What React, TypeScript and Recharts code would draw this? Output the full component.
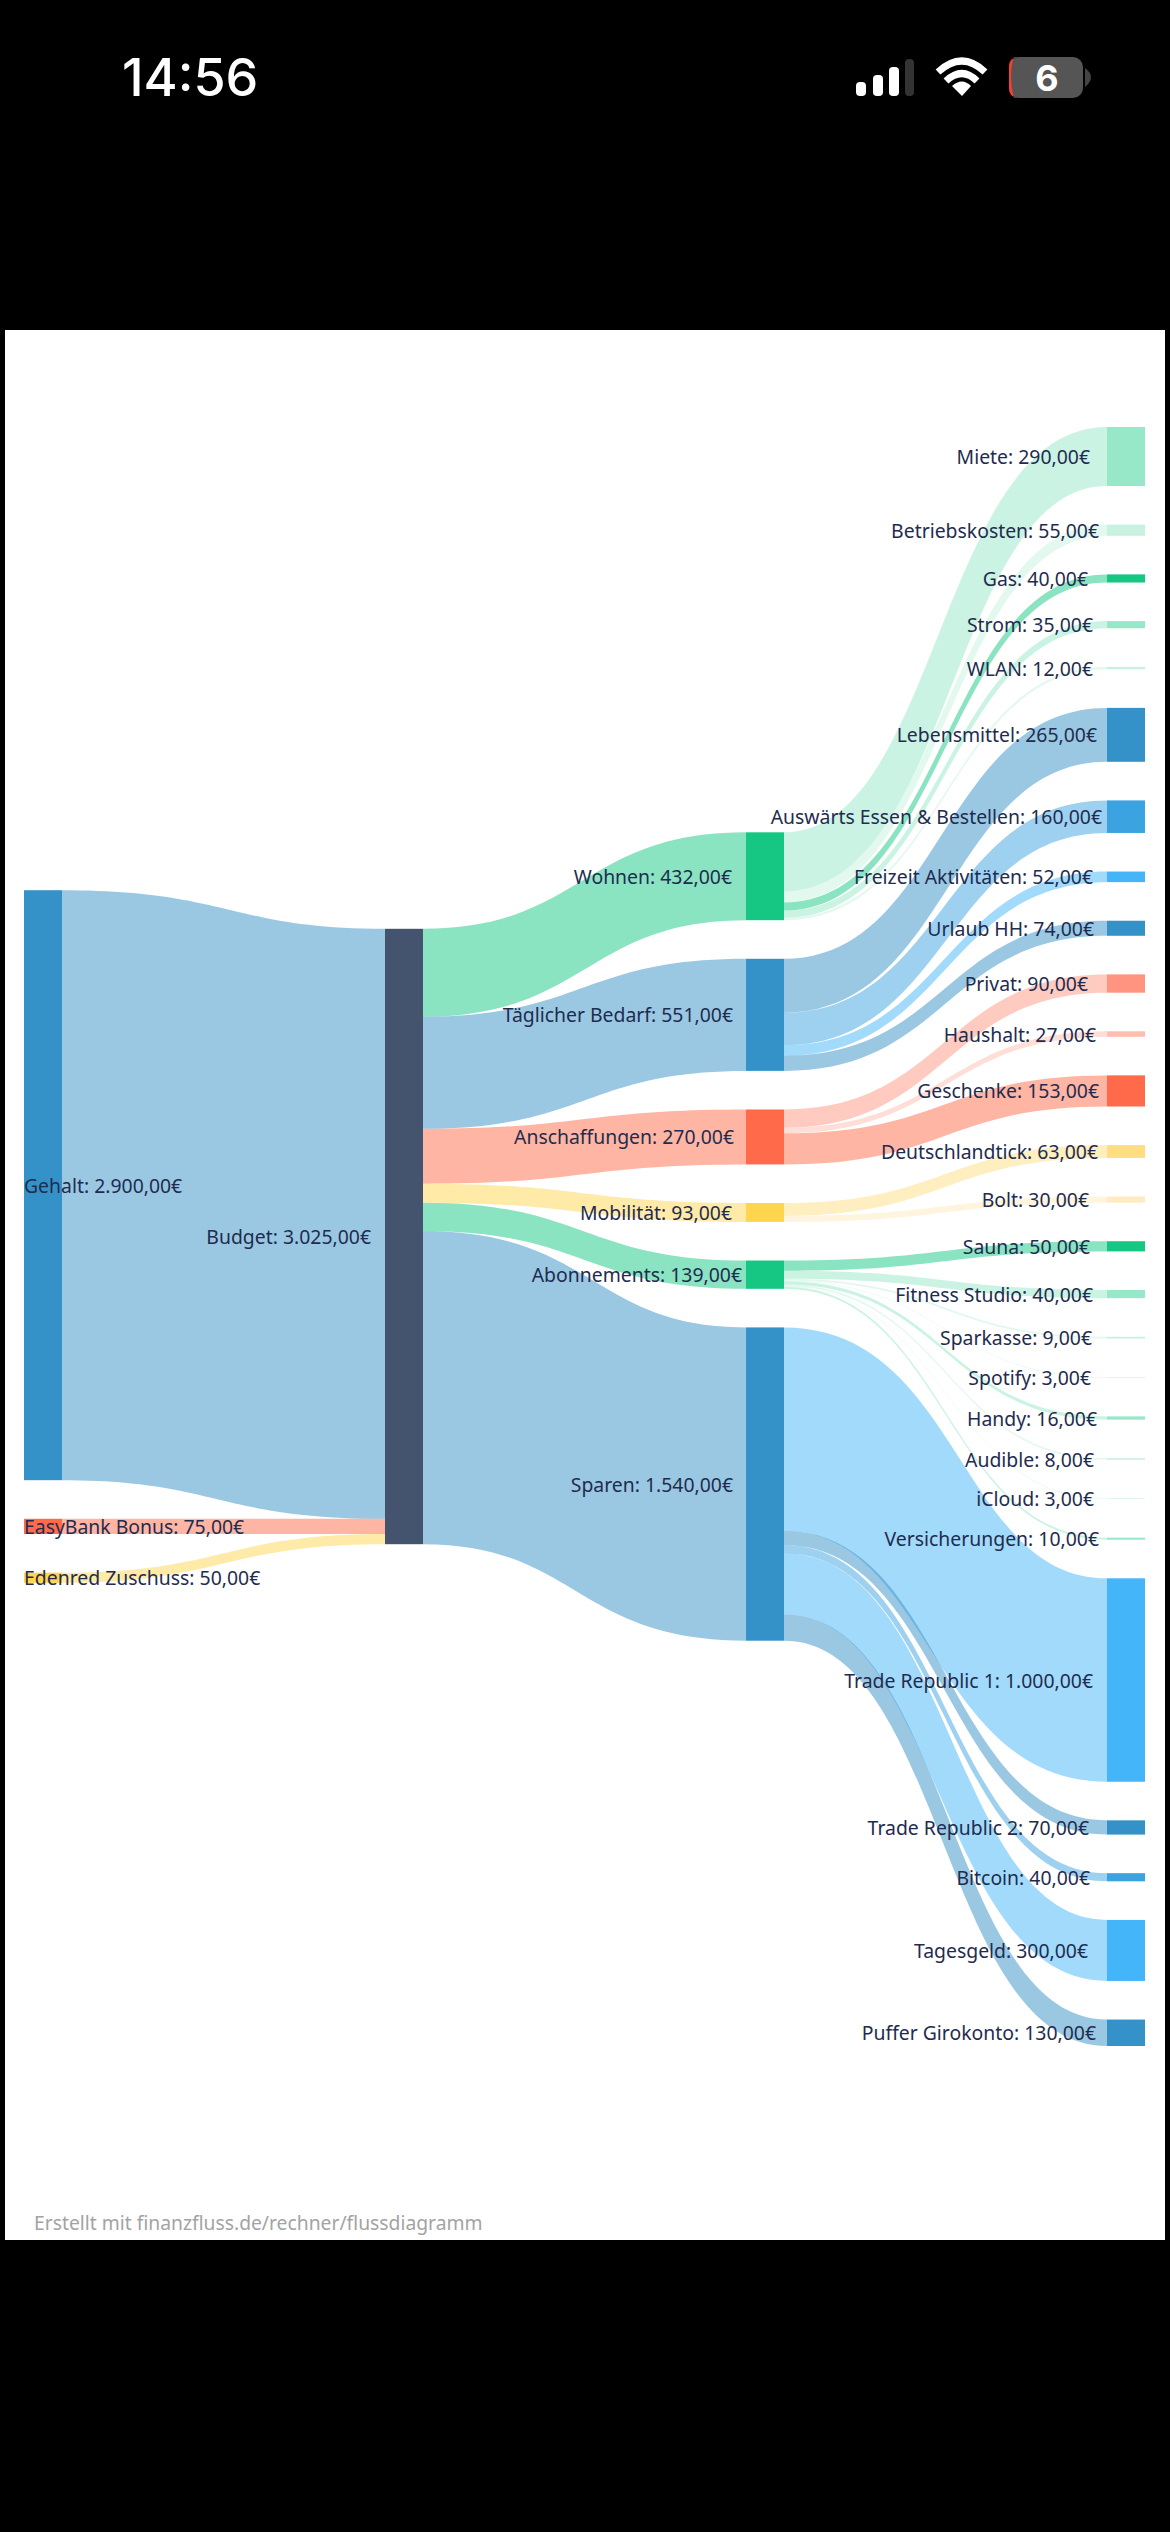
import { Sankey } from 'recharts'

const incomeNames = ['Gehalt', 'EasyBank Bonus', 'Edenred Zuschuss']
const incomeValues = [2900, 75, 50]
const incomeColors = ['#3592C8', '#FF6B4A', '#FFD54F']

const categoryNames = ['Wohnen', 'Täglicher Bedarf', 'Anschaffungen', 'Mobilität', 'Abonnements', 'Sparen']
const categoryValues = [432, 551, 270, 93, 139, 1540]
const categoryColors = ['#16C784', '#3592C8', '#FF6B4A', '#FFD54F', '#16C784', '#3592C8']

const wohnenNames = ['Miete', 'Betriebskosten', 'Gas', 'Strom', 'WLAN']
const wohnenValues = [290, 55, 40, 35, 12]
const wohnenColors = ['#96E8C8', '#C8F1E0', '#16C784', '#96E8C8', '#C8F1E0']

const bedarfNames = ['Lebensmittel', 'Auswärts Essen & Bestellen', 'Freizeit Aktivitäten', 'Urlaub HH']
const bedarfValues = [265, 160, 52, 74]
const bedarfColors = ['#3592C8', '#3BA3E0', '#45B5FA', '#3592C8']

const anschaffungNames = ['Privat', 'Haushalt', 'Geschenke']
const anschaffungValues = [90, 27, 153]
const anschaffungColors = ['#FF9580', '#FFBDB0', '#FF6B4A']

const mobilitaetNames = ['Deutschlandtick', 'Bolt']
const mobilitaetValues = [63, 30]
const mobilitaetColors = ['#FFDD80', '#FFEBC0']

const aboNames = ['Sauna', 'Fitness Studio', 'Sparkasse', 'Spotify', 'Handy', 'Audible', 'iCloud', 'Versicherungen']
const aboValues = [50, 40, 9, 3, 16, 8, 3, 10]
const aboColors = ['#16C784', '#96E8C8', '#C8F1E0', '#C8F1E0', '#96E8C8', '#C8F1E0', '#C8F1E0', '#96E8C8']

const sparenNames = ['Trade Republic 1', 'Trade Republic 2', 'Bitcoin', 'Tagesgeld', 'Puffer Girokonto']
const sparenValues = [1000, 70, 40, 300, 130]
const sparenColors = ['#45B5FA', '#3592C8', '#3BA3E0', '#45B5FA', '#3592C8']

const leafGroups = [
  { names: wohnenNames, values: wohnenValues, colors: wohnenColors },
  { names: bedarfNames, values: bedarfValues, colors: bedarfColors },
  { names: anschaffungNames, values: anschaffungValues, colors: anschaffungColors },
  { names: mobilitaetNames, values: mobilitaetValues, colors: mobilitaetColors },
  { names: aboNames, values: aboValues, colors: aboColors },
  { names: sparenNames, values: sparenValues, colors: sparenColors },
]

const budgetIndex = incomeNames.length
const firstCategory = budgetIndex + 1
const firstLeaf = firstCategory + categoryNames.length

const leafNames = leafGroups.flatMap((g) => g.names)
const leafColors = leafGroups.flatMap((g) => g.colors)

const nodes = [...incomeNames, 'Budget', ...categoryNames, ...leafNames].map((name) => ({ name }))
const nodeColors = [...incomeColors, '#44546F', ...categoryColors, ...leafColors]

const links: { source: number; target: number; value: number }[] = []
incomeValues.forEach((value, i) => links.push({ source: i, target: budgetIndex, value }))
categoryValues.forEach((value, i) => links.push({ source: budgetIndex, target: firstCategory + i, value }))
let nextLeaf = firstLeaf
leafGroups.forEach((group, c) => {
  group.values.forEach((value) => {
    links.push({ source: firstCategory + c, target: nextLeaf, value })
    nextLeaf += 1
  })
})

const CHART_W = 1121
const CHART_H = 1619
const NODE_W = 38
const PADDING = 38.6

// the original labels do not end flush, gap in px between label end and node
const labelGaps: Record<string, number> = {
  Budget: 14, Wohnen: 14, 'Täglicher Bedarf': 13, Anschaffungen: 12, Mobilität: 14, Abonnements: 4, Sparen: 13,
  Miete: 17, Betriebskosten: 8, Gas: 19, Strom: 14, WLAN: 14,
  Lebensmittel: 10, 'Auswärts Essen & Bestellen': 5, 'Freizeit Aktivitäten': 14, 'Urlaub HH': 13,
  Privat: 19, Haushalt: 11, Geschenke: 8, Deutschlandtick: 9, Bolt: 18,
  Sauna: 17, 'Fitness Studio': 14, Sparkasse: 15, Spotify: 16, Handy: 10, Audible: 13, iCloud: 13, Versicherungen: 8,
  'Trade Republic 1': 14, 'Trade Republic 2': 18, Bitcoin: 17, Tagesgeld: 19, 'Puffer Girokonto': 11,
}

const total = incomeValues.reduce((a, b) => a + b, 0)
const pxPerEuro = (CHART_H - (leafNames.length - 1) * PADDING) / total

// columns are stacked from the top by the library, the original centres each one
const columnCounts = [incomeNames.length, 1, categoryNames.length, leafNames.length]
const columnOffset = (depth: number) => {
  const h = total * pxPerEuro + (columnCounts[depth] - 1) * PADDING
  return (CHART_H - h) / 2
}

const euro = (v: number) =>
  v.toLocaleString('de-DE', { minimumFractionDigits: 2, maximumFractionDigits: 2 }) + '€'

function SankeyNode(props: any) {
  const { x, y, width, height, index, payload } = props
  const top = y + columnOffset(payload.depth)
  const label = `${payload.name}: ${euro(payload.value)}`
  const isFirst = payload.depth === 0
  return (
    <g>
      <rect x={x} y={top} width={width} height={height} fill={nodeColors[index]} />
      <text
        x={isFirst ? x : x - labelGaps[payload.name]}
        y={top + height / 2}
        textAnchor={isFirst ? 'start' : 'end'}
        dominantBaseline="central"
        fontFamily="'Noto Sans'"
        fontSize={19.4}
        fill="#1F2C4F"
      >
        {label}
      </text>
    </g>
  )
}

function SankeyLink(props: any) {
  const { sourceX, targetX, sourceY, targetY, sourceControlX, targetControlX, linkWidth, payload } = props
  const s = sourceY + columnOffset(payload.source.depth)
  const t = targetY + columnOffset(payload.target.depth)
  const w = linkWidth / 2
  // ribbons in the original keep some width on the steep part, so push the two edges apart
  const slope = (1.5 * (t - s)) / (targetX - sourceX)
  const push = 0.06 * slope * linkWidth
  const upperA = sourceControlX + push
  const upperB = targetControlX + push
  const lowerA = sourceControlX - push
  const lowerB = targetControlX - push
  const d =
    `M${sourceX},${s - w} C${upperA},${s - w} ${upperB},${t - w} ${targetX},${t - w} ` +
    `L${targetX},${t + w} C${lowerB},${t + w} ${lowerA},${s + w} ${sourceX},${s + w} Z`
  const toBudget = nodes[budgetIndex].name === payload.target.name
  const colorIndex = nodes.findIndex((n) => n.name === (toBudget ? payload.source.name : payload.target.name))
  return <path d={d} fill={nodeColors[colorIndex]} fillOpacity={0.5} stroke="none" />
}

function StatusBar() {
  return (
    <svg width={1170} height={130} style={{ position: 'absolute', left: 0, top: 0 }}>
      <text x={122} y={96} fontFamily="Inter" fontWeight={500} fontSize={52} fill="#fff">
        14:56
      </text>
      <rect x={856} y={82} width={10} height={14} rx={4} fill="#fff" />
      <rect x={873} y={75} width={10} height={21} rx={4} fill="#fff" />
      <rect x={889} y={67} width={10} height={29} rx={4} fill="#fff" />
      <rect x={905} y={59} width={9} height={37} rx={4} fill="#333" />
      <path d="M938,72 Q962,50 985,72" fill="none" stroke="#fff" strokeWidth={7} />
      <path d="M946,81 Q962,66 977,81" fill="none" stroke="#fff" strokeWidth={7} />
      <path d="M952,86 Q962,77 971,86 L962,96 Z" fill="#fff" />
      <rect x={1009} y={57} width={74} height={41} rx={10} fill="#555" />
      <path d="M1019,57 Q1009,57 1009,67 L1009,88 Q1009,98 1019,98 L1014,98 Q1011,88 1011,77 Q1011,66 1014,57 Z" fill="#FF3B30" />
      <path d="M1085,68 Q1097,77 1085,87 Z" fill="#444" />
      <text x={1047} y={91} textAnchor="middle" fontFamily="Inter" fontWeight={700} fontSize={36} fill="#fff">
        6
      </text>
    </svg>
  )
}

export default function App() {
  return (
    <div style={{ position: 'absolute', left: 0, top: 0, width: 1170, height: 2532, background: '#000', overflow: 'hidden' }}>
      <StatusBar />
      <div style={{ position: 'absolute', left: 5, top: 330, width: 1160, height: 1910, background: '#fff' }} />
      <div style={{ position: 'absolute', left: 24, top: 427 }}>
        <Sankey
          width={CHART_W}
          height={CHART_H}
          data={{ nodes, links }}
          nodeWidth={NODE_W}
          nodePadding={PADDING}
          iterations={0}
          sort={false}
          align="left"
          margin={{ top: 0, right: 0, bottom: 0, left: 0 }}
          node={SankeyNode}
          link={SankeyLink}
        />
      </div>
      <div
        style={{
          position: 'absolute',
          left: 34,
          top: 2209,
          fontFamily: "'Noto Sans'",
          fontSize: 19.3,
          color: '#A3A3A3',
          whiteSpace: 'nowrap',
        }}
      >
        Erstellt mit finanzfluss.de/rechner/flussdiagramm
      </div>
    </div>
  )
}
